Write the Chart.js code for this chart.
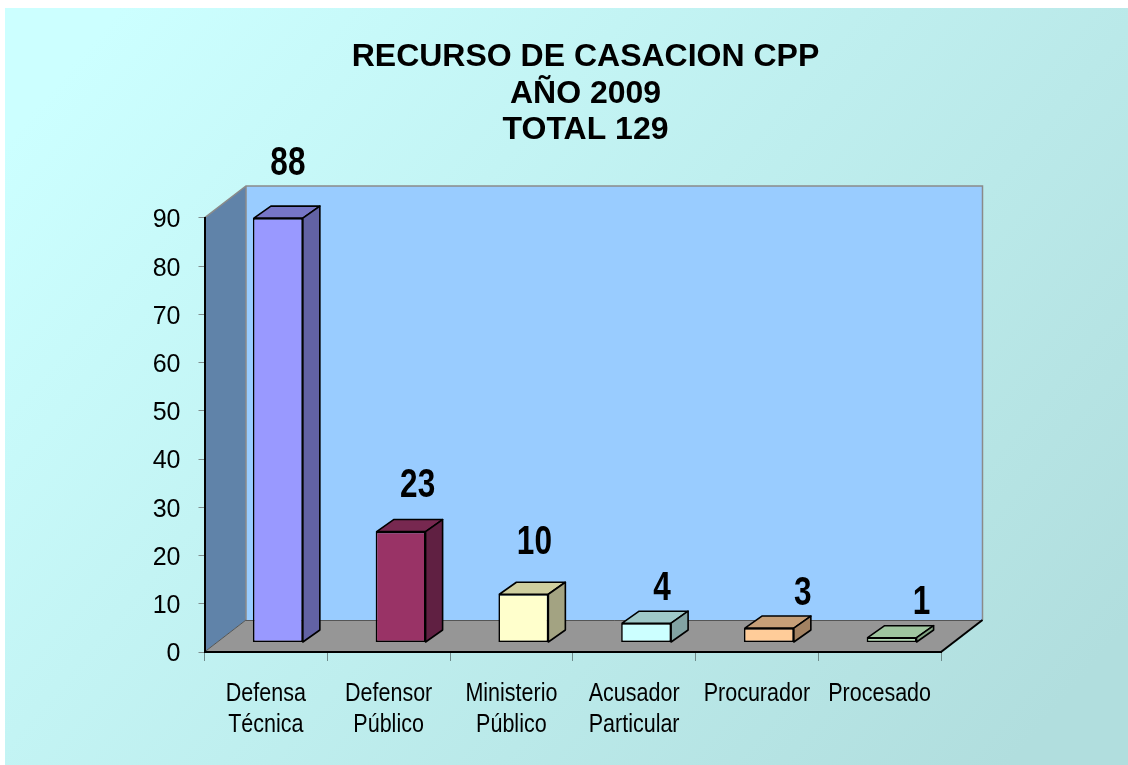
<!DOCTYPE html>
<html lang="es">
<head>
<meta charset="utf-8">
<title>Recurso de Casacion CPP</title>
<script src="https://cdn.jsdelivr.net/npm/chart.js@4"></script>
<style>
html,body{margin:0;padding:0;background:#fff}
#box{position:relative;width:1128px;height:765px}
canvas{display:block}
</style>
</head>
<body>
<div id="box"><canvas id="c" width="1128" height="765"></canvas></div>
<script>
const titleLines = ['RECURSO DE CASACION CPP', 'AÑO 2009', 'TOTAL 129'];
const categories = [['Defensa','Técnica'], ['Defensor','Público'], ['Ministerio','Público'], ['Acusador','Particular'], ['Procurador'], ['Procesado']];
const values = [88, 23, 10, 4, 3, 1];
const yTicks = [0, 10, 20, 30, 40, 50, 60, 70, 80, 90];

const frontColors = ['#9999FF', '#993366', '#FFFFCC', '#CCFFFF', '#FFCC99', '#CCFFCC'];
const topColors   = ['#7676C6', '#772850', '#CFCF9F', '#9FC9C9', '#C69F78', '#9FC69F'];
const sideColors  = ['#6262A4', '#602042', '#A3A382', '#82A3A3', '#A38262', '#82A382'];
const labelShiftX = [10, 17, 11, 16, 34, 30];
const labelShiftY = [-56, -48, -54, -37, -36, -37];

const FLOOR_DX = 41.5, FLOOR_DY = 32;
const BAR_DX = 17, BAR_DY = 12;
const PLANE_DX = 12, PLANE_DY = -9.5;
const CATEGORY_SQUEEZE = 0.86, VALUE_SQUEEZE = 0.77;

function squeezedCategoryLabels(scale) {
  return function (area) {
    const c = scale.ctx;
    scale.getLabelItems(area).forEach(item => {
      const lines = Array.isArray(item.label) ? item.label : [item.label];
      const [x, y] = item.options.translation;
      c.save();
      c.translate(x, y);
      c.scale(CATEGORY_SQUEEZE, 1);
      c.font = item.font.string;
      c.fillStyle = item.options.color;
      c.textAlign = 'center';
      c.textBaseline = item.options.textBaseline;
      lines.forEach((line, i) => c.fillText(line, 0, item.textOffset + i * item.font.lineHeight));
      c.restore();
    });
  };
}

const scene = {
  id: 'scene',
  afterLayout(chart) {
    chart.titleBlock.left += 115;
    chart.titleBlock.right += 115;
    chart.scales.x.drawLabels = squeezedCategoryLabels(chart.scales.x);
  },
  beforeDraw(chart) {
    const c = chart.ctx, a = chart.chartArea;
    const poly = (pts, fill) => {
      c.beginPath();
      pts.forEach((p, i) => i ? c.lineTo(p[0], p[1]) : c.moveTo(p[0], p[1]));
      c.closePath();
      c.fillStyle = fill;
      c.fill();
    };
    const g = c.createLinearGradient(120, 8, 1010, 765);
    g.addColorStop(0, '#CCFFFF');
    g.addColorStop(1, '#B1DEDE');
    c.fillStyle = g;
    c.fillRect(5, 8, 1123, 757);

    const L = a.left, R = a.right, T = a.top, B = a.bottom;
    const dx = FLOOR_DX, dy = FLOOR_DY;
    poly([[L + dx, T - dy], [R + dx, T - dy], [R + dx, B - dy], [L + dx, B - dy]], '#99CCFF');
    poly([[L, T], [L + dx, T - dy], [L + dx, B - dy], [L, B]], '#6083A9');
    poly([[L, B], [L + dx, B - dy], [R + dx, B - dy], [R, B]], '#969696');

    c.lineWidth = 1.5;
    c.strokeStyle = '#8A8A8A';
    c.beginPath();
    c.moveTo(L, T); c.lineTo(L + dx, T - dy); c.lineTo(R + dx, T - dy); c.lineTo(R + dx, B - dy);
    c.moveTo(L + dx, T - dy); c.lineTo(L + dx, B - dy);
    c.stroke();
    c.strokeStyle = '#555';
    c.lineWidth = 1;
    c.beginPath();
    c.moveTo(L + dx, B - dy + .5); c.lineTo(R + dx, B - dy + .5);
    c.moveTo(L, B); c.lineTo(L + dx, B - dy);
    c.stroke();
    c.strokeStyle = '#000';
    c.lineWidth = 2;
    c.beginPath();
    c.moveTo(R, B); c.lineTo(R + dx, B - dy);
    c.stroke();
  },
  beforeDatasetDraw(chart, args) {
    const c = chart.ctx;
    c.save();
    c.translate(PLANE_DX, PLANE_DY);
    c.lineWidth = 1.6;
    c.strokeStyle = '#000';
    c.lineJoin = 'round';
    chart.getDatasetMeta(args.index).data.forEach((bar, i) => {
      const l = bar.x - bar.width / 2, r = bar.x + bar.width / 2, t = bar.y, b = bar.base;
      c.beginPath();
      c.moveTo(l + 1, t); c.lineTo(l + 1 + BAR_DX, t - BAR_DY); c.lineTo(r + BAR_DX, t - BAR_DY); c.lineTo(r, t);
      c.closePath();
      c.fillStyle = topColors[i];
      c.fill(); c.stroke();
      c.beginPath();
      c.moveTo(r, t); c.lineTo(r + BAR_DX, t - BAR_DY); c.lineTo(r + BAR_DX, b - BAR_DY); c.lineTo(r, b);
      c.closePath();
      c.fillStyle = sideColors[i];
      c.fill(); c.stroke();
    });
  },
  afterDatasetDraw(chart) {
    chart.ctx.restore();
  },
  afterDatasetsDraw(chart) {
    const c = chart.ctx;
    chart.getDatasetMeta(0).data.forEach((bar, i) => {
      c.save();
      c.translate(bar.x + PLANE_DX + labelShiftX[i], bar.y + PLANE_DY + labelShiftY[i] + 2);
      c.scale(VALUE_SQUEEZE, 1);
      c.fillStyle = '#000';
      c.font = "bold 41px 'Liberation Sans',Arial,sans-serif";
      c.textAlign = 'center';
      c.textBaseline = 'middle';
      c.fillText(String(values[i]), 0, 0);
      c.restore();
    });
  }
};

new Chart(document.getElementById('c'), {
  type: 'bar',
  data: {
    labels: categories,
    datasets: [{
      label: 'Recurso de casación',
      data: values,
      backgroundColor: frontColors,
      borderColor: '#000',
      borderWidth: 1.6,
      borderSkipped: false,
      barPercentage: 0.407,
      categoryPercentage: 1,
      clip: false
    }]
  },
  options: {
    responsive: false,
    animation: false,
    layout: { padding: { left: 0, right: 187, top: 0, bottom: 0 } },
    plugins: {
      legend: { display: false },
      tooltip: { enabled: false },
      title: {
        display: true,
        text: titleLines,
        color: '#000',
        font: { family: "'Liberation Sans',Arial,sans-serif", size: 32, weight: 'bold', lineHeight: 1.14 },
        padding: { top: 39, bottom: 69.5 }
      }
    },
    scales: {
      x: {
        afterFit(s) { s.height = 113; },
        grid: { drawOnChartArea: false, drawTicks: true, tickLength: 9, tickColor: '#6E8A8A', tickWidth: 1 },
        border: { display: true, color: '#000', width: 2 },
        ticks: {
          color: '#000', autoSkip: false, maxRotation: 0, padding: 18,
          font: { family: "'Liberation Sans',Arial,sans-serif", size: 25, lineHeight: 1.24 }
        }
      },
      y: {
        min: 0, max: 90,
        afterFit(s) { s.width = 204.5; },
        afterBuildTicks(s) { s.ticks = yTicks.map(v => ({ value: v })); },
        grid: { drawOnChartArea: false, drawTicks: true, tickLength: 6, tickColor: '#7F8F8F', tickWidth: 1 },
        border: { display: true, color: '#000', width: 2 },
        ticks: {
          color: '#000', padding: 18, labelOffset: 2.5,
          font: { family: "'Liberation Sans',Arial,sans-serif", size: 25 }
        }
      }
    }
  },
  plugins: [scene]
});
</script>
</body>
</html>
